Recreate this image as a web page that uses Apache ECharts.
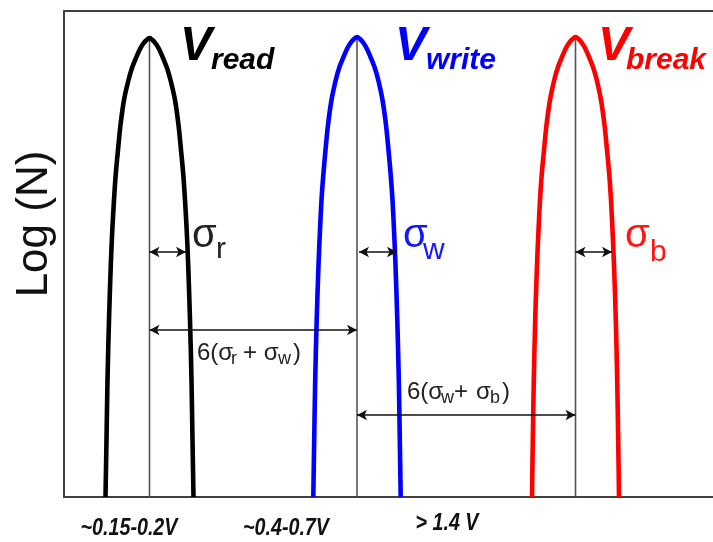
<!DOCTYPE html>
<html>
<head>
<meta charset="utf-8">
<script src="https://cdn.jsdelivr.net/npm/echarts@6/dist/echarts.min.js"></script>
<style>
html,body{margin:0;padding:0;background:#fff;}
#chart{width:713px;height:542px;}
</style>
</head>
<body>
<div id="chart"></div>
<script>
// ---- data (arbitrary units: x = voltage axis, y = Log(N)) ----
const readCurve = [[41.5,0],[42.5,57],[43.5,117],[45,177],[46.8,232],[48.3,267],[50,297],[51.7,322],[54,347],[56.5,372],[60,397],[64.5,417],[68,429],[72,439],[75.5,447],[79,453],[82.5,457],[85.5,459],
  [88.5,457],[92,453],[95.5,447],[99,439],[103,429],[106.5,417],[111,397],[114.5,372],[117,347],[119.3,322],[121,297],[122.7,267],[124.2,232],[126,177],[127.5,117],[128.5,57],[129.5,0]];
const writeCurve = [[249.3,0],[250.2,57],[251.2,117],[252.7,177],[254.5,232],[256,267],[257.5,297],[259.3,322],[261.5,347],[264,372],[267.5,397],[272,418],[275.5,430],[279.5,440],[283,448],[286.5,454],[290,458],[293,460],
  [296,458],[299.5,454],[303,448],[306.5,440],[310.5,430],[314,418],[318.5,397],[322,372],[324.5,347],[326.7,322],[328.5,297],[330,267],[331.5,232],[333.3,177],[334.8,117],[335.8,57],[336.7,0]];
const breakCurve = [[468,0],[468.8,57],[469.8,117],[471.2,177],[473,232],[474.5,267],[476,297],[477.7,322],[480,347],[482.5,372],[486,397],[490.5,418],[494,430],[498,440],[501.5,448],[505,454],[508.5,458],[511.5,460],
  [514.5,458],[518,454],[521.5,448],[525,440],[529,430],[532.5,418],[537,397],[540.5,372],[543,347],[545.3,322],[547,297],[548.5,267],[550,232],[551.8,177],[553.2,117],[554.2,57],[555,0]];
const centers = [85.5, 293, 511.5];
const peaks = [459, 460, 460];
const sigmaArrows = [[85.5, 122, 245], [295, 333, 245], [511.5, 548, 245]]; // [from, to, level]
const spanArrows = [[85.5, 293, 167], [293, 511.5, 82]];
const xLabels = ['~0.15-0.2V', '~0.4-0.7V', '> 1.4 V'];
const yName = 'Log (N)';
const titles = [['V', 'read'], ['V', 'write'], ['V', 'break']];
const sigmaSubs = ['r', 'w', 'b'];
const colors = ['#000000', '#0000ff', '#ff0000'];

const chart = echarts.init(document.getElementById('chart'), null, {renderer: 'canvas'});
const F = '"Liberation Sans", Arial, sans-serif';
function txt(x, y, text, font, fill, extra) {
  return Object.assign({
    type: 'text', x: x, y: y, silent: true,
    style: {text: text, font: font, fill: fill, align: 'left', verticalAlign: 'middle'}
  }, extra || {});
}
const axisCommon = {
  type: 'value', min: 0, max: 649,
  axisLine: {show: true, lineStyle: {color: '#404040', width: 2}},
  axisTick: {show: false}, axisLabel: {show: false}, splitLine: {show: false}
};

const curves = [readCurve, writeCurve, breakCurve];
const series = curves.map((c, i) => ({
  type: 'line', data: c, smooth: 0.3, showSymbol: false, z: 3,
  lineStyle: {color: colors[i], width: 4.6}
}));
centers.forEach((cx, i) => {
  const s = {
    type: 'line', data: [[cx, peaks[i]], [cx, 0]], showSymbol: false, z: 2,
    lineStyle: {color: '#555', width: 1.6}
  };
  if (i === 0) {
    const mlData = [];
    sigmaArrows.forEach(a => mlData.push([{coord: [a[0], a[2]]}, {coord: [a[1], a[2]]}]));
    spanArrows.forEach(a => mlData.push([{coord: [a[0], a[2]]}, {coord: [a[1], a[2]]}]));
    s.markLine = {
      silent: true, animation: false, symbol: ['arrow', 'arrow'], symbolSize: [8, 10],
      label: {show: false}, lineStyle: {color: '#111', width: 1.5, type: 'solid'},
      emphasis: {disabled: true}, data: mlData
    };
  }
  series.push(s);
});

const g = [];
// titles
const tPos = [[180, 211], [395, 426], [598, 626]];
titles.forEach((t, i) => {
  g.push(txt(tPos[i][0], 47, t[0], 'italic bold 48px ' + F, colors[i]));
  g.push(txt(tPos[i][1], 61, t[1], 'italic bold 30px ' + F, colors[i]));
});
// sigma labels
const sPos = [[192, 216, 250], [403, 423, 251], [625, 650, 253]];
const sigCol = ['#222222', '#1515ff', '#ff1515'];
sigmaSubs.forEach((s, i) => {
  g.push(txt(sPos[i][0], 236, 'σ', '40px ' + F, sigCol[i]));
  g.push(txt(sPos[i][1], sPos[i][2], s, '30px ' + F, sigCol[i]));
});
// span labels
const sf = '24px ' + F, sub = '18px ' + F, tc = '#222';
g.push(txt(197, 353, '6(σ', sf, tc), txt(231, 359, 'r', sub, tc), txt(243, 353, '+ σ', sf, tc),
       txt(278, 359, 'w', sub, tc), txt(293, 353, ')', sf, tc));
g.push(txt(407, 392, '6(σ', sf, tc), txt(441, 398, 'w', sub, tc), txt(454, 392, '+', sf, tc),
       txt(476, 392, 'σ', sf, tc), txt(490, 398, 'b', sub, tc), txt(502, 392, ')', sf, tc));
// x labels
const xl = [[129, 528], [286, 528], [447, 523]];
xLabels.forEach((l, i) => {
  g.push(txt(xl[i][0], xl[i][1], l, 'italic bold 24px ' + F, '#111',
    {scaleX: 0.82, style: {text: l, font: 'italic bold 24px ' + F, fill: '#111', align: 'center', verticalAlign: 'middle'}}));
});
// y name
g.push(txt(35, 224, yName, '44px ' + F, '#111',
  {rotation: Math.PI / 2, style: {text: yName, font: '44px ' + F, fill: '#111', align: 'center', verticalAlign: 'middle'}}));

chart.setOption({
  animation: false,
  grid: {left: 64, top: 11, right: 0, bottom: 45},
  xAxis: [Object.assign({position: 'bottom'}, axisCommon), Object.assign({position: 'top'}, axisCommon)],
  yAxis: {type: 'value', min: 0, max: 486,
    axisLine: {show: true, lineStyle: {color: '#404040', width: 2}},
    axisTick: {show: false}, axisLabel: {show: false}, splitLine: {show: false}},
  series: series,
  graphic: g
});
</script>
</body>
</html>
